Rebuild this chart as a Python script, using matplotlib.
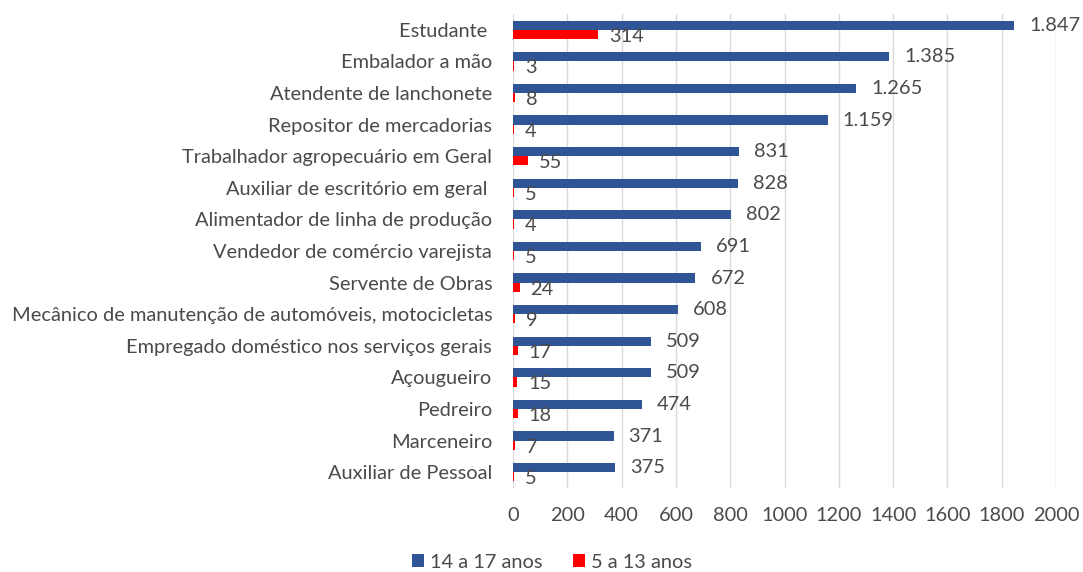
import numpy as np
import matplotlib.pyplot as plt

plt.rcParams['font.family'] = ['Lato', 'DejaVu Sans']

categorias = [
    "Estudante ",
    "Embalador a mão",
    "Atendente de lanchonete",
    "Repositor de mercadorias",
    "Trabalhador agropecuário em Geral",
    "Auxiliar de escritório em geral ",
    "Alimentador de linha de produção",
    "Vendedor de comércio varejista",
    "Servente de Obras",
    "Mecânico de manutenção de automóveis, motocicletas",
    "Empregado doméstico nos serviços gerais",
    "Açougueiro",
    "Pedreiro",
    "Marceneiro",
    "Auxiliar de Pessoal",
]
anos_14_17 = [1847, 1385, 1265, 1159, 831, 828, 802, 691, 672, 608, 509, 509, 474, 371, 375]
anos_5_13 = [314, 3, 8, 4, 55, 5, 4, 5, 24, 9, 17, 15, 18, 7, 5]
ticks_x = [0, 200, 400, 600, 800, 1000, 1200, 1400, 1600, 1800, 2000]

azul = "#2F5597"
vermelho = "#FF0000"
cinza_txt = "#4A4A4A"
fs = 14.4


def fmt(v):
    return f"{v:,}".replace(",", ".")


fig = plt.figure(figsize=(10.83, 5.72), dpi=100)
ax = fig.add_axes([513 / 1083, 1 - 488 / 572, (1056 - 513) / 1083, (488 - 14) / 572])

y = np.arange(len(categorias))
h = 0.29
b1 = ax.barh(y - h / 2, anos_14_17, height=h, color=azul, label="14 a 17 anos", zorder=3)
b2 = ax.barh(y + h / 2, anos_5_13, height=h, color=vermelho, label="5 a 13 anos", zorder=3)

# rótulos de valor
for yi, v in zip(y, anos_14_17):
    ax.text(v + 55, yi - h / 2, fmt(v), va="center", ha="left", fontsize=fs, color=cinza_txt)
for yi, v in zip(y, anos_5_13):
    ax.text(v + 40, yi + h / 2 + 0.06, fmt(v), va="center", ha="left", fontsize=fs, color=cinza_txt)

ax.set_xlim(0, 2000)
ax.set_ylim(len(categorias) - 0.5, -0.5)
ax.set_yticks(y)
ax.set_yticklabels(categorias, fontsize=fs, color=cinza_txt)
ax.set_xticks(ticks_x)
ax.set_xticklabels([str(t) for t in ticks_x], fontsize=fs, color=cinza_txt)
ax.tick_params(axis="both", length=0)
ax.tick_params(axis="x", pad=14)
ax.tick_params(axis="y", pad=15)
ax.grid(axis="x", color="#D9D9D9", linewidth=1, zorder=0)
for s in ax.spines.values():
    s.set_visible(False)

fig.legend(handles=[b1, b2], loc="center", bbox_to_anchor=(552 / 1083, 1 - 562 / 572),
           ncol=2, frameon=False, fontsize=fs, handlelength=0.6, handleheight=0.6,
           handletextpad=0.3, columnspacing=1.5, labelcolor=cinza_txt)

fig.savefig("out.png", dpi=100)
